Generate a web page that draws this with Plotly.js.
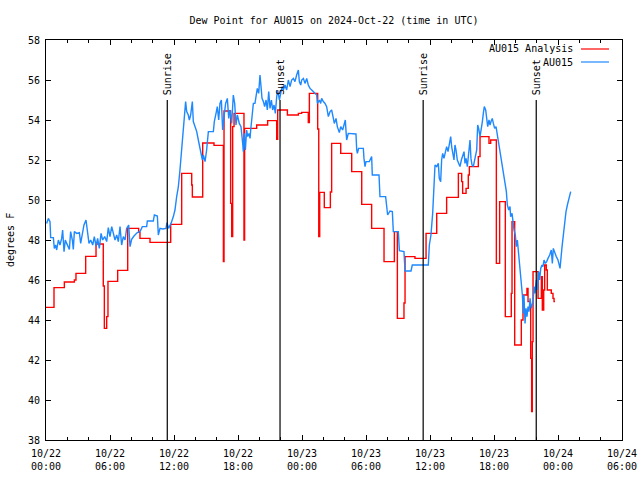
<!DOCTYPE html>
<html>
<head>
<meta charset="utf-8">
<script src="https://cdn.plot.ly/plotly-3.0.1.min.js"></script>
<style>
  html, body { margin: 0; padding: 0; background: #fff; }
  #chart { width: 640px; height: 480px; }
</style>
</head>
<body>
<div id="chart"></div>
<script>
// Hours since 2024-10-22 00:00 UTC, and dew point (deg F)
var analysisHours = [0, 0.75, 1.72, 2.66, 2.81, 3.72, 4.69, 5.37, 5.47, 5.69, 5.81, 6.72, 7.66, 8.69, 8.81, 9.75,
  11.69, 12.72, 13.66, 13.72, 14.69, 15.75, 16.63, 16.69, 17.31, 17.41, 17.5, 17.63, 18.56, 18.62, 19.75, 20.78,
  21.63, 21.72, 22.63, 23.66, 23.97, 24.59, 24.69, 25.47, 25.57, 25.66, 26.09, 26.66, 26.78, 27.63, 28.66, 29.6,
  30.53, 31.69, 32.66, 32.94, 33.56, 33.66, 34.59, 35.63, 36.63, 37.56, 38.66, 38.97, 39.06, 39.38, 39.59, 39.69,
  40.53, 40.69, 41.53, 41.69, 42.22, 42.53, 43.06, 43.62, 43.69, 43.94, 44.56, 44.72, 45.09, 45.19, 45.35, 45.44,
  45.53, 45.59, 45.66, 46.13, 46.44, 46.53, 46.66, 46.75, 46.9, 47.0, 47.37, 47.53, 47.63, 47.72];
var analysisValues = [44.63, 45.62, 45.9, 46.0, 46.33, 47.18, 47.8, 45.7, 43.58, 44.17, 45.93, 46.48, 48.58, 48.38, 48.08, 47.88,
  48.78, 51.33, 50.75, 50.15, 52.85, 52.73, 46.92, 54.45, 49.83, 48.17, 53.67, 54.33, 48.0, 53.58, 53.75, 53.97,
  53.03, 54.5, 54.25, 54.33, 54.38, 53.87, 55.33, 53.55, 48.17, 50.38, 49.62, 50.4, 52.83, 52.33, 51.42, 49.78,
  48.58, 46.92, 48.42, 44.08, 44.85, 47.17, 47.08, 48.33, 49.33, 50.13, 51.33, 50.92, 50.33, 50.58, 51.25, 51.67,
  52.17, 53.17, 52.83, 53.0, 46.83, 49.92, 44.17, 45.33, 48.92, 42.75, 44.0, 45.25, 45.58, 44.92, 44.67, 42.08,
  39.42, 42.92, 46.42, 45.08, 46.17, 44.5, 45.5, 46.75, 46.5, 45.5, 45.33, 45.08, 44.92, 44.92];

var stationHours = [0.06, 0.22, 0.375, 0.44, 0.69, 0.78, 0.91, 1.0, 1.16, 1.31, 1.47, 1.56, 1.69, 1.81, 1.94, 2.19,
  2.31, 2.47, 2.56, 2.66, 2.88, 3.13, 3.25, 3.41, 3.56, 3.75, 3.88, 4.03, 4.19, 4.38, 4.53, 4.69, 4.84, 5.0, 5.16,
  5.31, 5.5, 5.69, 5.84, 6.0, 6.16, 6.31, 6.47, 6.63, 6.78, 6.94, 7.09, 7.25, 7.41, 7.56, 7.75, 7.88, 8.03, 8.25,
  8.56, 8.81, 9.03, 9.44, 9.5, 10.06, 10.16, 10.44, 10.53, 10.69, 10.94, 11.25, 11.34, 11.5, 11.72, 11.94, 12.09,
  12.25, 12.41, 12.56, 12.66, 12.78, 12.88, 12.97, 13.09, 13.19, 13.34, 13.44, 13.56, 13.72, 13.81, 13.97, 14.13,
  14.28, 14.44, 14.53, 14.66, 14.75, 14.91, 15.06, 15.22, 15.69, 15.78, 15.94, 16.06, 16.19, 16.31, 16.44, 16.56,
  16.69, 16.84, 17.0, 17.13, 17.25, 17.41, 17.56, 17.69, 17.81, 17.94, 18.12, 18.28, 18.44, 18.5, 18.59, 18.69,
  18.81, 18.91, 19.03, 19.13, 19.19, 19.31, 19.44, 19.59, 19.69, 19.81, 19.94, 20.06, 20.16, 20.25, 20.38, 20.5,
  20.63, 20.75, 20.88, 21.0, 21.13, 21.25, 21.38, 21.5, 21.63, 21.72, 21.88, 22.0, 22.13, 22.25, 22.41, 22.56,
  22.72, 22.88, 23.03, 23.19, 23.34, 23.5, 23.66, 23.75, 23.88, 23.97, 24.13, 24.28, 24.44, 24.59, 24.75, 24.91,
  25.06, 25.22, 25.38, 25.44, 25.63, 25.75, 25.84, 26.0, 26.16, 26.31, 26.47, 26.63, 26.78, 26.94, 27.03, 27.19,
  27.31, 27.5, 27.63, 27.81, 27.94, 28.06, 28.13, 28.19, 28.34, 29.06, 29.13, 29.19, 29.31, 29.75, 29.81, 29.91,
  30.0, 30.31, 30.53, 30.59, 31.22, 31.31, 31.84, 31.94, 32.03, 32.25, 32.47, 32.56, 33.03, 33.13, 33.56, 33.66,
  34.22, 34.34, 35.84, 35.94, 36.09, 36.25, 36.38, 36.47, 36.63, 36.78, 36.87, 37.0, 37.09, 37.19, 37.31, 37.44,
  37.56, 37.69, 37.81, 37.94, 38.03, 38.13, 38.25, 38.34, 38.44, 38.56, 38.69, 38.81, 38.94, 39.06, 39.19, 39.28,
  39.38, 39.5, 39.63, 39.75, 39.84, 39.94, 40.06, 40.16, 40.28, 40.38, 40.47, 40.56, 40.69, 40.78, 40.91, 41.0,
  41.09, 41.22, 41.31, 41.41, 41.53, 41.63, 41.72, 41.84, 41.94, 42.06, 42.19, 42.31, 42.44, 42.56, 42.72, 42.87,
  43.03, 43.16, 43.25, 43.38, 43.5, 43.56, 43.69, 43.78, 43.88, 44.0, 44.09, 44.19, 44.31, 44.44, 44.56, 44.66,
  44.75, 44.81, 44.91, 45.0, 45.09, 45.19, 45.28, 45.38, 45.5, 45.66, 45.75, 45.84, 45.97, 46.06, 46.19, 46.28,
  46.38, 46.5, 46.59, 46.69, 46.81, 46.94, 47.06, 47.22, 47.37, 47.47, 47.56, 47.69, 47.84, 48.0, 48.19, 48.38,
  48.5, 48.63, 48.75, 48.88, 49.0, 49.13, 49.19];
var stationValues = [48.83, 49.08, 48.92, 48.12, 48.12, 47.58, 47.75, 47.5, 48.0, 47.75, 48.08, 48.5, 47.42, 48.0, 47.83, 47.53,
  48.42, 48.0, 47.53, 48.42, 48.33, 48.37, 47.83, 48.42, 48.75, 49.0, 48.5, 47.83, 48.0, 47.75, 48.17, 47.7, 48.08, 47.58, 48.33,
  48.0, 48.17, 47.92, 48.62, 48.17, 48.67, 48.37, 48.0, 48.25, 47.92, 48.67, 47.75, 48.17, 48.0, 48.58, 48.75, 47.67, 48.03, 48.2,
  48.37, 48.42, 48.67, 48.67, 48.95, 48.95, 49.25, 49.2, 48.25, 48.58, 48.55, 48.58, 48.87, 48.58, 48.83, 49.17, 49.5,
  50.17, 50.67, 51.5, 52.17, 53.17, 53.5, 54.5, 54.92, 54.42, 54.25, 54.0, 54.25, 54.92, 53.92, 53.67, 53.42,
  53.0, 52.58, 52.25, 52.0, 52.25, 51.92, 52.5, 53.42, 53.42, 53.92, 54.33, 54.67, 54.0, 54.83, 55.0, 53.5,
  54.17, 54.83, 55.08, 54.08, 54.5, 53.83, 55.25, 54.83, 53.75, 54.25, 53.83, 53.67, 52.83, 52.42, 53.33, 52.5,
  53.5, 53.17, 53.33, 53.08, 53.5, 54.08, 54.83, 54.83, 55.33, 55.58, 55.33, 56.25, 55.67, 55.08, 54.92, 54.67,
  55.0, 54.5, 55.42, 54.58, 55.0, 54.5, 54.75, 54.33, 55.17, 55.5, 55.0, 55.33, 55.67, 55.5, 55.75, 55.5,
  56.0, 55.67, 56.0, 56.08, 55.92, 56.25, 56.5, 55.92, 55.75, 56.0, 56.08, 55.83, 56.08, 55.75, 55.58, 55.5,
  55.42, 55.33, 55.25, 54.83, 55.0, 54.83, 55.08, 54.92, 54.83, 54.67, 54.17, 54.42, 54.5, 54.08, 53.83, 54.08,
  53.67, 53.37, 53.67, 53.5, 53.83, 54.0, 53.42, 53.0, 53.33, 53.3, 52.5, 52.33, 52.58, 52.58, 52.08, 51.67,
  51.92, 51.92, 52.17, 51.25, 51.25, 50.17, 50.17, 49.42, 49.25, 49.45, 49.42, 48.42, 48.42, 47.47, 47.42, 46.45,
  46.45, 46.75, 46.75, 47.75, 48.25, 49.33, 50.75, 51.75, 51.67, 51.83, 51.08, 50.92, 52.0, 52.33, 52.08, 52.5,
  52.67, 52.42, 52.92, 53.17, 52.67, 52.33, 52.0, 52.75, 52.5, 52.0, 51.83, 51.67, 52.0, 52.25, 52.42, 51.83,
  52.08, 51.67, 52.25, 53.0, 52.08, 51.75, 51.67, 52.0, 52.33, 52.5, 53.75, 53.58, 53.17, 53.42, 53.92, 54.33,
  54.67, 54.5, 54.08, 53.67, 54.0, 53.75, 53.92, 54.08, 53.83, 53.58, 53.67, 53.25, 52.92, 52.42, 51.92, 51.42,
  50.92, 50.42, 49.75, 49.5, 49.67, 49.17, 49.33, 48.83, 48.5, 48.25, 47.67, 48.0, 47.25, 46.67, 46.0, 45.25,
  44.33, 45.25, 43.83, 44.58, 44.17, 44.67, 44.42, 45.08, 44.58, 44.92, 45.67, 45.33, 46.0, 45.5, 46.42, 46.0,
  46.58, 46.75, 46.67, 47.0, 46.83, 46.92, 47.08, 47.25, 47.5, 46.83, 47.58, 47.33, 47.17, 47.0, 46.58, 47.67,
  48.33, 49.0, 49.42, 49.75, 50.0, 50.33, 50.42];

var sunHours = [11.37, 21.94, 35.36, 45.96];
var sunLabels = ["Sunrise", "Sunset", "Sunrise", "Sunset"];
var sunLineTop = 55;

var seriesNames = ["AU015 Analysis", "AU015"];
var seriesColors = ["#ff0000", "#1e88ff"];

var BASE = Date.UTC(2024, 9, 22, 0, 0, 0);
function toTime(h) { return BASE + h * 3600000; }

var traces = [
  {
    x: analysisHours.map(toTime), y: analysisValues, type: "scatter", mode: "lines",
    name: seriesNames[0], line: {color: seriesColors[0], width: 1.4, shape: "hv"},
    showlegend: false, hoverinfo: "skip"
  },
  {
    x: stationHours.map(toTime), y: stationValues, type: "scatter", mode: "lines",
    name: seriesNames[1], line: {color: seriesColors[1], width: 1.4},
    showlegend: false, hoverinfo: "skip"
  }
];

var FONT = "DejaVu Sans Mono, monospace";
var shapes = [];
var annotations = [];
sunHours.forEach(function (h, i) {
  shapes.push({type: "line", xref: "x", yref: "y", x0: toTime(h), x1: toTime(h), y0: 38, y1: sunLineTop,
    line: {color: "#000", width: 1.2}});
  annotations.push({xref: "x", yref: "y", x: toTime(h), y: sunLineTop, text: sunLabels[i], textangle: -90,
    showarrow: false, xanchor: "center", yanchor: "bottom", yshift: 3, font: {family: FONT, size: 10, color: "#000"}});
});

// legend drawn in gnuplot style: text then sample line, top right inside
var legendY = [0.9775, 0.945];
seriesNames.forEach(function (n, i) {
  annotations.push({xref: "paper", yref: "paper", x: 0.9184, y: legendY[i], text: n, showarrow: false,
    xanchor: "right", yanchor: "middle", font: {family: FONT, size: 10, color: "#000"}});
  shapes.push({type: "line", xref: "paper", yref: "paper", x0: 0.9288, x1: 0.9774, y0: legendY[i], y1: legendY[i],
    line: {color: seriesColors[i], width: 1.2}});
});

annotations.push({xref: "paper", yref: "paper", x: -0.0625, y: 0.5, text: "degrees F", textangle: -90,
  showarrow: false, xanchor: "center", yanchor: "middle", font: {family: FONT, size: 10, color: "#000"}});

var layout = {
  width: 640, height: 480,
  margin: {l: 46, r: 18, t: 40, b: 40, pad: 0},
  paper_bgcolor: "#fff", plot_bgcolor: "#fff",
  font: {family: FONT, size: 10, color: "#000"},
  title: {text: "Dew Point for AU015 on 2024-Oct-22 (time in UTC)", x: 0.5, xref: "paper", xanchor: "center",
    y: 0.958, yref: "container", yanchor: "middle", font: {family: FONT, size: 10, color: "#000"}},
  xaxis: {
    type: "date", range: [toTime(0), toTime(54)], dtick: 6 * 3600000, tick0: toTime(0),
    tickformat: "%m/%d<br>%H:%M", ticks: "inside", ticklen: 5, tickcolor: "#000", tickwidth: 1,
    ticklabelstandoff: 4,
    minor: {dtick: 2 * 3600000, ticks: "inside", ticklen: 3, tickcolor: "#000", tickwidth: 1, showgrid: false},
    showline: true, linecolor: "#000", linewidth: 1, mirror: "allticks", showgrid: false, zeroline: false,
    tickfont: {family: FONT, size: 10, color: "#000"}, fixedrange: true
  },
  yaxis: {
    range: [38, 58], dtick: 2, tick0: 38, ticks: "inside", ticklen: 5, tickcolor: "#000", tickwidth: 1,
    ticklabelstandoff: 3,
    showline: true, linecolor: "#000", linewidth: 1, mirror: "allticks", showgrid: false, zeroline: false,
    tickfont: {family: FONT, size: 10, color: "#000"}, fixedrange: true
  },
  shapes: shapes,
  annotations: annotations,
  showlegend: false
};

Plotly.newPlot("chart", traces, layout, {staticPlot: true, displayModeBar: false});
</script>
</body>
</html>
